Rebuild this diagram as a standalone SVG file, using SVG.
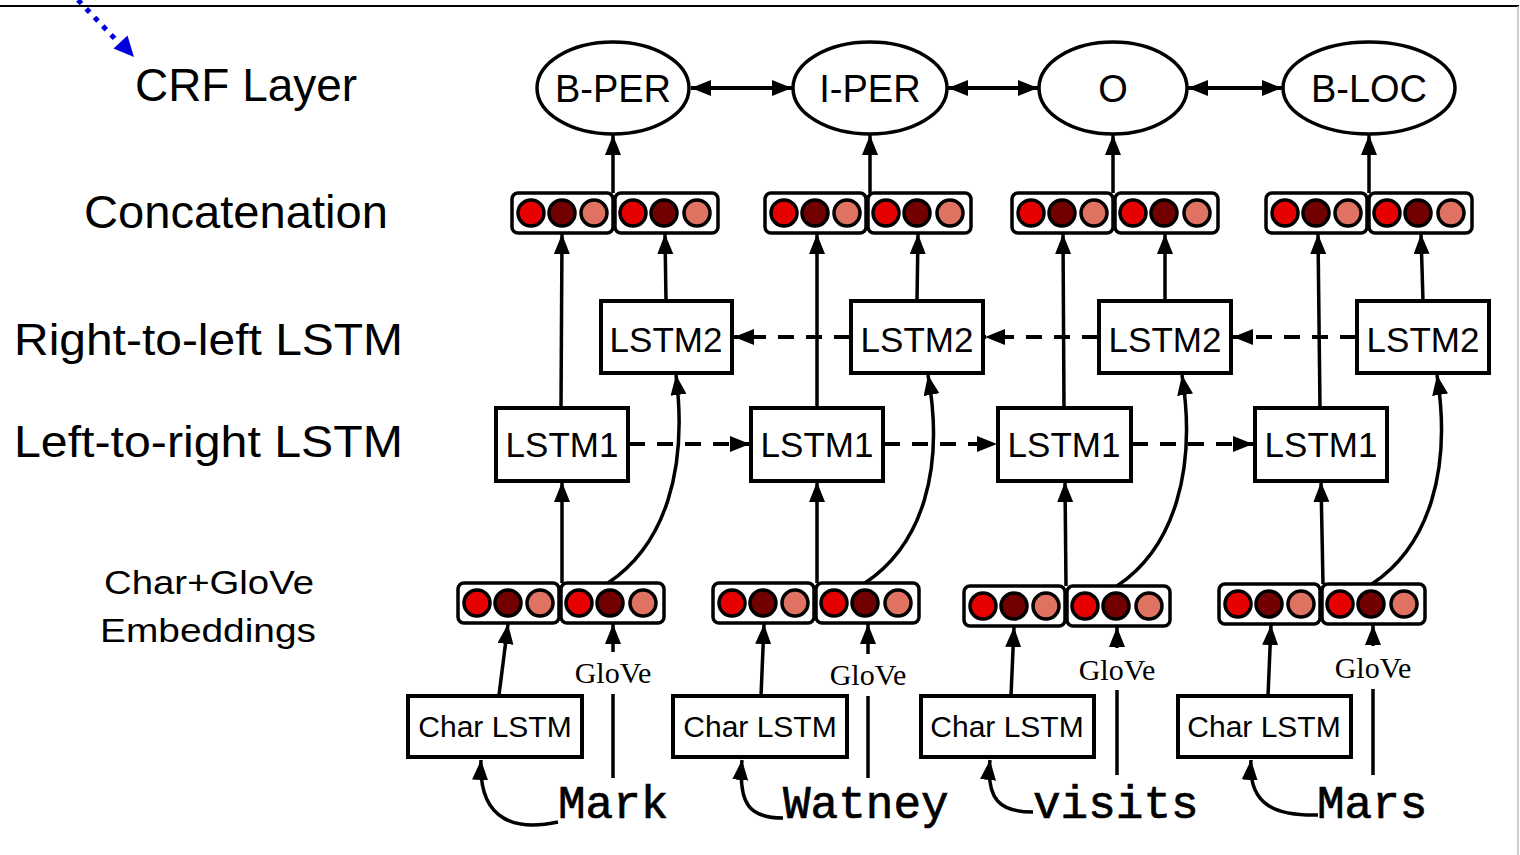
<svg xmlns="http://www.w3.org/2000/svg" xmlns:xlink="http://www.w3.org/1999/xlink" width="1520" height="855" viewBox="0 0 1520 855">
<style>
.lbl{font-family:"Liberation Sans",Arial,sans-serif;fill:#000}
.node{fill:#fff;stroke:#000;stroke-width:4}
.ell{fill:#fff;stroke:#000;stroke-width:3.5}
.ntext{font-family:"Liberation Sans",Arial,sans-serif;fill:#000;text-anchor:middle}
.glove{font-family:"Liberation Serif","Times New Roman",serif;font-size:30px;fill:#000;text-anchor:middle}
.word{font-family:"Liberation Mono","Courier New",monospace;font-size:46px;fill:#000;stroke:#000;stroke-width:0.7}
.ln{fill:none;stroke:#000;stroke-width:3.5}
.arr{fill:none;stroke:#000;stroke-width:3.5;marker-end:url(#ah)}
.dbl{fill:none;stroke:#000;stroke-width:4;marker-end:url(#ah);marker-start:url(#ahs)}
.dash{fill:none;stroke:#000;stroke-width:4;stroke-dasharray:16 12;marker-end:url(#ah)}
.c1{fill:#e60000;stroke:#000;stroke-width:3.5}
.c2{fill:#720000;stroke:#000;stroke-width:3.5}
.c3{fill:#e07262;stroke:#000;stroke-width:3.5}
.vb{fill:#fff;stroke:#000;stroke-width:3.5}
</style>
<defs>
<marker id="ah" markerUnits="userSpaceOnUse" markerWidth="22" markerHeight="18" refX="20" refY="8" orient="auto"><path d="M0,0 L20,8 L0,16 Z" fill="#000"/></marker>
<marker id="ahs" markerUnits="userSpaceOnUse" markerWidth="22" markerHeight="18" refX="20" refY="8" orient="auto-start-reverse"><path d="M0,0 L20,8 L0,16 Z" fill="#000"/></marker>
<g id="vec">
<rect class="vb" x="0" y="0" width="101" height="40" rx="6"/>
<rect class="vb" x="103" y="0" width="103" height="40" rx="6"/>
<circle class="c1" cx="19" cy="20" r="13"/>
<circle class="c2" cx="50" cy="20" r="13"/>
<circle class="c3" cx="82" cy="20" r="13"/>
<circle class="c1" cx="121" cy="20" r="13"/>
<circle class="c2" cx="152" cy="20" r="13"/>
<circle class="c3" cx="185" cy="20" r="13"/>
</g>
</defs>
<rect width="1520" height="855" fill="#fff"/>
<line x1="0" y1="6" x2="1519" y2="6" stroke="#000" stroke-width="2"/>
<line x1="1518" y1="6" x2="1518" y2="855" stroke="#bdbdbd" stroke-width="1.5"/>
<g id="blue-pointer">
<line x1="78" y1="0" x2="119" y2="43" stroke="#0000dd" stroke-width="5" stroke-dasharray="5 7"/>
<polygon points="134,57 113.5,48.5 127.5,35.5" fill="#0000dd"/>
</g>
<g id="row-labels">
<text class="lbl" x="135" y="101" font-size="46" textLength="222" lengthAdjust="spacingAndGlyphs">CRF Layer</text>
<text class="lbl" x="84" y="228" font-size="46" textLength="304" lengthAdjust="spacingAndGlyphs">Concatenation</text>
<text class="lbl" x="14" y="355" font-size="44" textLength="389" lengthAdjust="spacingAndGlyphs">Right-to-left LSTM</text>
<text class="lbl" x="14" y="457" font-size="44" textLength="389" lengthAdjust="spacingAndGlyphs">Left-to-right LSTM</text>
<text class="lbl" x="104" y="594" font-size="34" textLength="210" lengthAdjust="spacingAndGlyphs">Char+GloVe</text>
<text class="lbl" x="100" y="642" font-size="34" textLength="216" lengthAdjust="spacingAndGlyphs">Embeddings</text>
</g>
<g id="connectors">
<line class="dbl" x1="691" y1="88" x2="792" y2="88"/>
<line class="dbl" x1="948" y1="88" x2="1038" y2="88"/>
<line class="dbl" x1="1188" y1="88" x2="1282" y2="88"/>
<line class="arr" x1="613" y1="193" x2="613" y2="135"/>
<line class="arr" x1="870" y1="193" x2="870" y2="135"/>
<line class="arr" x1="1113" y1="193" x2="1113" y2="135"/>
<line class="arr" x1="1369" y1="193" x2="1369" y2="135"/>
<line class="arr" x1="561" y1="408" x2="562" y2="234"/>
<line class="arr" x1="666" y1="301" x2="665" y2="234"/>
<line class="arr" x1="817" y1="408" x2="817" y2="234"/>
<line class="arr" x1="917" y1="301" x2="918" y2="234"/>
<line class="arr" x1="1064" y1="408" x2="1063" y2="234"/>
<line class="arr" x1="1165" y1="301" x2="1165" y2="234"/>
<line class="arr" x1="1320" y1="408" x2="1318" y2="234"/>
<line class="arr" x1="1423" y1="301" x2="1421" y2="234"/>
<line class="dash" x1="629" y1="444" x2="750" y2="444"/>
<line class="dash" x1="884" y1="444" x2="997" y2="444"/>
<line class="dash" x1="1132" y1="444" x2="1253" y2="444"/>
<line class="dash" x1="850" y1="337" x2="734" y2="337"/>
<line class="dash" x1="1098" y1="337" x2="985" y2="337"/>
<line class="dash" x1="1356" y1="337" x2="1233" y2="337"/>
<line class="arr" x1="562" y1="583" x2="562" y2="482"/>
<line class="arr" x1="817" y1="583" x2="817" y2="482"/>
<line class="arr" x1="1066" y1="586" x2="1065" y2="482"/>
<line class="arr" x1="1323" y1="584" x2="1321" y2="482"/>
<path class="arr" d="M608,583 C665,545 688,470 676,375"/>
<path class="arr" d="M865,583 C922,545 945,470 928,375"/>
<path class="arr" d="M1117,586 C1174,548 1197,470 1182,375"/>
<path class="arr" d="M1372,584 C1429,546 1452,470 1437,375"/>
<line class="arr" x1="499" y1="695" x2="508" y2="624"/>
<line class="arr" x1="761" y1="696" x2="764" y2="624"/>
<line class="arr" x1="1011" y1="696" x2="1014" y2="627"/>
<line class="arr" x1="1268" y1="696" x2="1271" y2="625"/>
<line class="ln" x1="613" y1="778" x2="613" y2="694"/>
<line class="arr" x1="613" y1="652" x2="613" y2="624"/>
<line class="ln" x1="868" y1="778" x2="868" y2="696"/>
<line class="arr" x1="868" y1="654" x2="868" y2="624"/>
<line class="ln" x1="1117" y1="775" x2="1117" y2="690"/>
<line class="arr" x1="1117" y1="648" x2="1117" y2="627"/>
<line class="ln" x1="1373" y1="775" x2="1373" y2="689"/>
<line class="arr" x1="1373" y1="646" x2="1373" y2="625"/>
<path class="arr" d="M558,822 C520,830 478,825 481,760"/>
<path class="arr" d="M783,818 C750,818 738,805 742,760"/>
<path class="arr" d="M1033,812 C1000,812 986,800 990,760"/>
<path class="arr" d="M1318,815 C1275,816 1248,805 1251,760"/>
</g>
<g id="crf-bper"><ellipse class="ell" cx="613" cy="88" rx="76" ry="46"/><text class="ntext" x="613" y="102" font-size="38">B-PER</text></g>
<g id="crf-iper"><ellipse class="ell" cx="870" cy="88" rx="77" ry="46"/><text class="ntext" x="870" y="102" font-size="38">I-PER</text></g>
<g id="crf-o"><ellipse class="ell" cx="1113" cy="88" rx="74" ry="46"/><text class="ntext" x="1113" y="102" font-size="38">O</text></g>
<g id="crf-bloc"><ellipse class="ell" cx="1369" cy="88" rx="86" ry="46"/><text class="ntext" x="1369" y="102" font-size="38">B-LOC</text></g>
<g id="concat-1"><use xlink:href="#vec" href="#vec" x="512" y="193"/></g>
<g id="concat-2"><use xlink:href="#vec" href="#vec" x="765" y="193"/></g>
<g id="concat-3"><use xlink:href="#vec" href="#vec" x="1012" y="193"/></g>
<g id="concat-4"><use xlink:href="#vec" href="#vec" x="1266" y="193"/></g>
<g id="lstm2-1"><rect class="node" x="601" y="301" width="131" height="72"/><text class="ntext" x="666" y="352" font-size="35">LSTM2</text></g>
<g id="lstm2-2"><rect class="node" x="851" y="301" width="132" height="72"/><text class="ntext" x="917" y="352" font-size="35">LSTM2</text></g>
<g id="lstm2-3"><rect class="node" x="1099" y="301" width="132" height="72"/><text class="ntext" x="1165" y="352" font-size="35">LSTM2</text></g>
<g id="lstm2-4"><rect class="node" x="1357" y="301" width="132" height="72"/><text class="ntext" x="1423" y="352" font-size="35">LSTM2</text></g>
<g id="lstm1-1"><rect class="node" x="496" y="408" width="132" height="73"/><text class="ntext" x="562" y="457" font-size="35">LSTM1</text></g>
<g id="lstm1-2"><rect class="node" x="751" y="408" width="132" height="73"/><text class="ntext" x="817" y="457" font-size="35">LSTM1</text></g>
<g id="lstm1-3"><rect class="node" x="998" y="408" width="133" height="73"/><text class="ntext" x="1064" y="457" font-size="35">LSTM1</text></g>
<g id="lstm1-4"><rect class="node" x="1255" y="408" width="132" height="73"/><text class="ntext" x="1321" y="457" font-size="35">LSTM1</text></g>
<g id="emb-1"><use xlink:href="#vec" href="#vec" x="458" y="583"/></g>
<g id="emb-2"><use xlink:href="#vec" href="#vec" x="713" y="583"/></g>
<g id="emb-3"><use xlink:href="#vec" href="#vec" x="964" y="586"/></g>
<g id="emb-4"><use xlink:href="#vec" href="#vec" x="1219" y="584"/></g>
<g id="glove-1"><text class="glove" x="613" y="683">GloVe</text></g>
<g id="glove-2"><text class="glove" x="868" y="685">GloVe</text></g>
<g id="glove-3"><text class="glove" x="1117" y="680">GloVe</text></g>
<g id="glove-4"><text class="glove" x="1373" y="678">GloVe</text></g>
<g id="char-1"><rect class="node" x="408" y="696" width="174" height="61"/><text class="ntext" x="495" y="737" font-size="30">Char LSTM</text></g>
<g id="char-2"><rect class="node" x="673" y="696" width="174" height="61"/><text class="ntext" x="760" y="737" font-size="30">Char LSTM</text></g>
<g id="char-3"><rect class="node" x="921" y="696" width="173" height="61"/><text class="ntext" x="1007" y="737" font-size="30">Char LSTM</text></g>
<g id="char-4"><rect class="node" x="1178" y="696" width="173" height="61"/><text class="ntext" x="1264" y="737" font-size="30">Char LSTM</text></g>
<g id="word-1"><text class="word" x="558" y="818">Mark</text></g>
<g id="word-2"><text class="word" x="783" y="818">Watney</text></g>
<g id="word-3"><text class="word" x="1033" y="818">visits</text></g>
<g id="word-4"><text class="word" x="1317" y="818">Mars</text></g>
</svg>
